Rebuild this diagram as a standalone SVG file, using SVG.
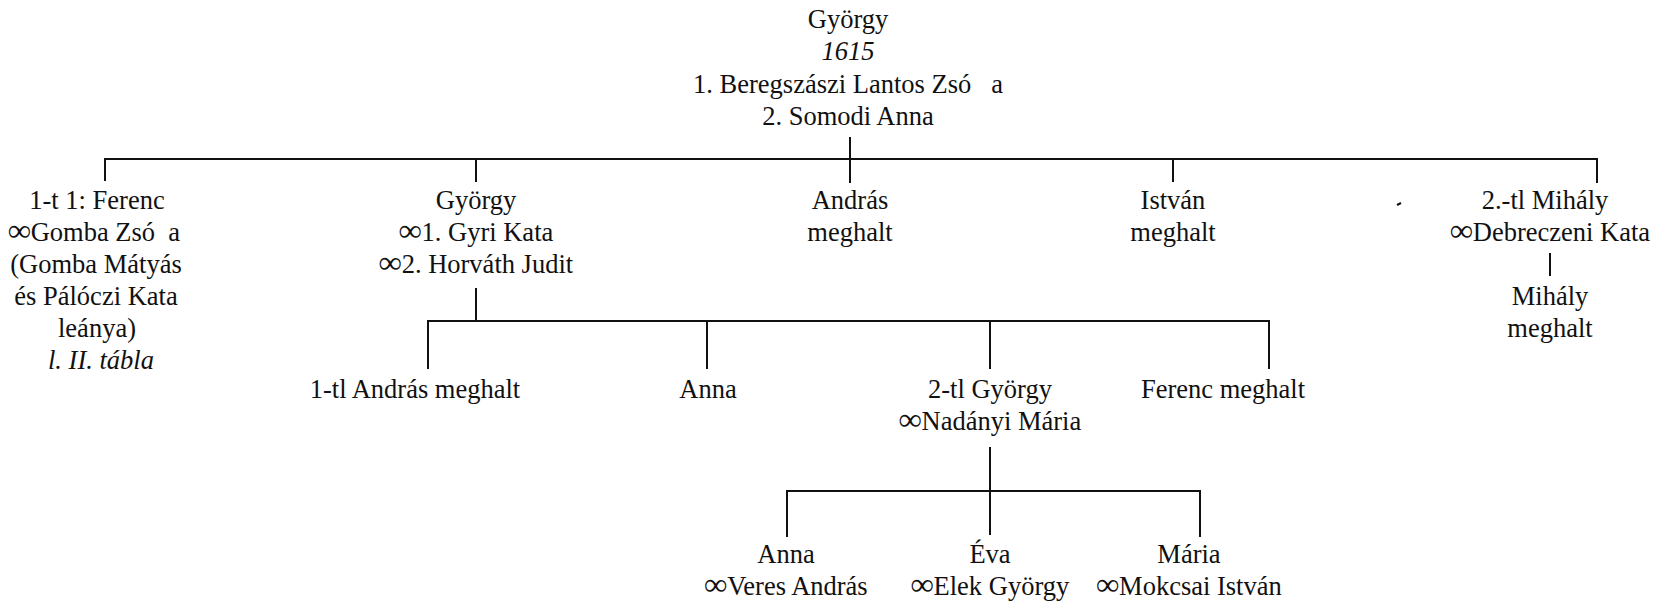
<svg xmlns="http://www.w3.org/2000/svg" width="1660" height="606" viewBox="0 0 1660 606">
  <style>
    text { font-family: "Liberation Serif", "Times New Roman", serif; font-size: 26.5px; fill: #111; text-anchor: middle; }
    .it { font-style: italic; }
    .m { font-size: 32px; font-weight: bold; }
    .ln { fill: none; stroke: #111; stroke-width: 2; }
  </style>
  <rect width="1660" height="606" fill="#fff"/>

  <!-- connectors -->
  <g id="connectors" class="ln">
    <!-- György 1615 to his children -->
    <path d="M850 137V183M105 181V159H1597V183M476 159V182M1173 159V182"/>
    <!-- Mihály (2.-tl) to son -->
    <path d="M1550 253V276"/>
    <!-- György (2nd generation) to his children -->
    <path d="M476 288V321M428 369V321H1269V369M707 321V369M990 321V369"/>
    <!-- 2-tl György to his daughters -->
    <path d="M990 447V535M787 537V491H1200V537"/>
  </g>

  <!-- stray printing mark -->
  <path d="M1397 205L1401 203" stroke="#111" stroke-width="2"/>

  <g id="gyorgy-1615">
    <text x="848" y="28">György</text>
    <text x="848" y="60" class="it">1615</text>
    <text x="848" y="93" xml:space="preserve">1. Beregszászi Lantos Zsó   a</text>
    <text x="848" y="125">2. Somodi Anna</text>
  </g>

  <g id="ferenc">
    <text x="97" y="209">1-t 1: Ferenc</text>
    <text x="94" y="241" xml:space="preserve"><tspan class="m">∞</tspan>Gomba Zsó  a</text>
    <text x="96" y="273">(Gomba Mátyás</text>
    <text x="96" y="305">és Pálóczi Kata</text>
    <text x="97" y="337">leánya)</text>
    <text x="101" y="369" class="it">l. II. tábla</text>
  </g>

  <g id="gyorgy">
    <text x="476" y="209">György</text>
    <text x="476" y="241"><tspan class="m">∞</tspan>1. Gyri Kata</text>
    <text x="476" y="273"><tspan class="m">∞</tspan>2. Horváth Judit</text>
  </g>

  <g id="andras">
    <text x="850" y="209">András</text>
    <text x="850" y="241">meghalt</text>
  </g>

  <g id="istvan">
    <text x="1173" y="209">István</text>
    <text x="1173" y="241">meghalt</text>
  </g>

  <g id="mihaly-2tl">
    <text x="1545" y="209">2.-tl Mihály</text>
    <text x="1550" y="241"><tspan class="m">∞</tspan>Debreczeni Kata</text>
  </g>

  <g id="mihaly">
    <text x="1550" y="305">Mihály</text>
    <text x="1550" y="337">meghalt</text>
  </g>

  <g id="andras-1tl">
    <text x="415" y="398">1-tl András meghalt</text>
  </g>

  <g id="anna">
    <text x="708" y="398">Anna</text>
  </g>

  <g id="gyorgy-2tl">
    <text x="990" y="398">2-tl György</text>
    <text x="990" y="430"><tspan class="m">∞</tspan>Nadányi Mária</text>
  </g>

  <g id="ferenc-meghalt">
    <text x="1223" y="398">Ferenc meghalt</text>
  </g>

  <g id="anna-veres">
    <text x="786" y="563">Anna</text>
    <text x="786" y="595"><tspan class="m">∞</tspan>Veres András</text>
  </g>

  <g id="eva">
    <text x="990" y="563">Éva</text>
    <text x="990" y="595"><tspan class="m">∞</tspan>Elek György</text>
  </g>

  <g id="maria">
    <text x="1189" y="563">Mária</text>
    <text x="1189" y="595"><tspan class="m">∞</tspan>Mokcsai István</text>
  </g>
</svg>
